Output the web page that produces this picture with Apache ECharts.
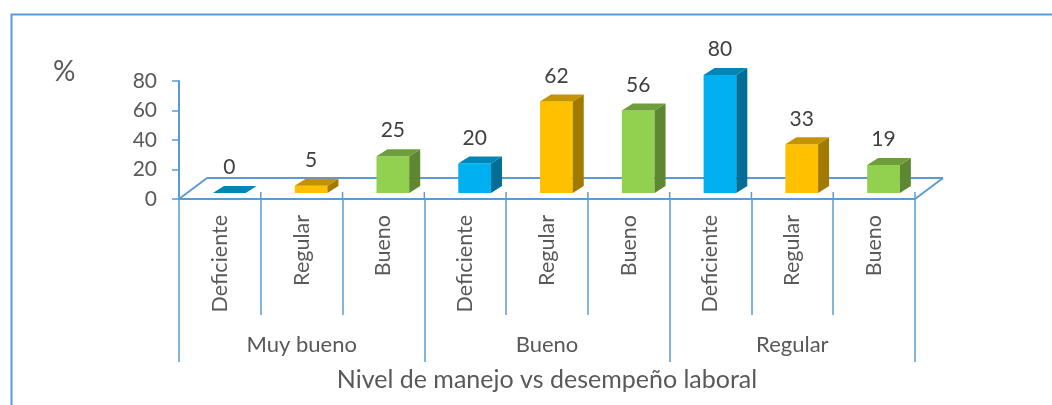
<!DOCTYPE html>
<html>
<head>
<meta charset="utf-8">
<script src="https://cdn.jsdelivr.net/npm/echarts@6/dist/echarts.min.js"></script>
<style>
  html, body { margin: 0; padding: 0; background: #fff; }
  #chart { width: 1052px; height: 405px; }
</style>
</head>
<body>
<div id="chart"></div>
<script>
// Performance level groups (outer axis) and management level (inner axis)
const groups = ['Muy bueno', 'Bueno', 'Regular'];
const levels = ['Deficiente', 'Regular', 'Bueno'];
const categories = ['Deficiente', 'Regular', 'Bueno', 'Deficiente', 'Regular', 'Bueno', 'Deficiente', 'Regular', 'Bueno'];
const values = [0, 5, 25, 20, 62, 56, 80, 33, 19];
const yTicks = [0, 20, 40, 60, 80];

// face colours per management level: front, top, side
const palette = {
  'Deficiente': ['#00B0F0', '#0086B6', '#006E96'],
  'Regular':    ['#FFC000', '#C49300', '#A37A00'],
  'Bueno':      ['#92D050', '#6E9D3B', '#5E8732']
};

const FONT = 'Lato';
const AXIS_BLUE = '#5B9BD5';
const TEXT = '#595959';

const chart = echarts.init(document.getElementById('chart'), null, { renderer: 'canvas' });

// floor of the 3D plot area plus the short tick stubs through it
function renderFloor(params, api) {
  const cs = params.coordSys;
  const fy = cs.y + cs.height;
  const dx = 28, dy = 21;
  const ls = { stroke: AXIS_BLUE, lineWidth: 2 };
  const children = [
    { type: 'line', shape: { x1: cs.x + dx, y1: fy - dy, x2: cs.x + cs.width + dx, y2: fy - dy }, style: ls },
    { type: 'line', shape: { x1: cs.x, y1: fy, x2: cs.x + dx, y2: fy - dy }, style: ls },
    { type: 'line', shape: { x1: cs.x + cs.width, y1: fy, x2: cs.x + cs.width + dx, y2: fy - dy }, style: ls }
  ];
  const band = cs.width / categories.length;
  for (let i = 1; i <= categories.length; i++) {
    const x = cs.x + band * i;
    children.push({ type: 'line', shape: { x1: x, y1: fy - 7, x2: x, y2: fy }, style: { stroke: AXIS_BLUE, lineWidth: 1.5 } });
  }
  return { type: 'group', children };
}

// 3D column: front face, top face, right side face and value label
function renderBar(params, api) {
  const idx = api.value(0);
  const v = api.value(1);
  const base = api.coord([idx, 0]);
  const top = api.coord([idx, v]);
  const band = api.size([1, 0])[0];
  const w = band * 0.4;
  const shift = band * 0.115;
  const lift = 6;
  const dx = 11, dy = 7;
  const x0 = base[0] - w / 2 + shift;
  const x1 = x0 + w;
  const yb = base[1] - lift;
  const yt = top[1] - lift;
  const col = palette[categories[idx]];
  const children = [];
  if (yb - yt > 0.5) {
    children.push({ type: 'rect', shape: { x: x0, y: yt, width: w, height: yb - yt }, style: { fill: col[0] } });
    children.push({ type: 'polygon', shape: { points: [[x1, yt], [x1 + dx, yt - dy], [x1 + dx, yb - dy], [x1, yb]] }, style: { fill: col[2] } });
  }
  children.push({ type: 'polygon', shape: { points: [[x0, yt], [x1, yt], [x1 + dx, yt - dy], [x0 + dx, yt - dy]] }, style: { fill: col[1] } });
  children.push({
    type: 'text',
    style: {
      text: String(v), x: (x0 + x1) / 2, y: yt - dy - 8,
      align: 'center', verticalAlign: 'bottom',
      fill: '#404040', font: '21px ' + FONT
    }
  });
  return { type: 'group', children };
}

const option = {
  animation: false,
  backgroundColor: '#fff',
  textStyle: { fontFamily: FONT },
  grid: { left: 179, right: 137, top: 81, bottom: 206, containLabel: false },
  graphic: [
    { type: 'rect', left: 9, top: 12, shape: { width: 1100, height: 500 }, style: { fill: 'none', stroke: AXIS_BLUE, lineWidth: 2 }, z: 0 },
    { type: 'text', left: 53, top: 58, style: { text: '%', fill: TEXT, font: '28px ' + FONT }, z: 10 }
  ],
  xAxis: [
    {
      type: 'category', data: categories, position: 'bottom',
      axisLine: { show: true, lineStyle: { color: AXIS_BLUE, width: 2 } },
      axisTick: { show: true, length: 116, interval: 0, lineStyle: { color: AXIS_BLUE, width: 1.5 } },
      axisLabel: { interval: 0, rotate: 90, margin: 16, color: TEXT, fontSize: 21.5, fontFamily: FONT },
      splitLine: { show: false }
    },
    {
      type: 'category', data: groups, position: 'bottom', offset: 0,
      axisLine: { show: false },
      axisTick: { show: true, length: 163, interval: 0, lineStyle: { color: AXIS_BLUE, width: 1.5 } },
      axisLabel: { interval: 0, margin: 135, color: TEXT, fontSize: 22, fontFamily: FONT },
      name: 'Nivel de manejo vs desempeño laboral',
      nameLocation: 'middle', nameGap: 168,
      nameTextStyle: { color: TEXT, fontSize: 25, fontFamily: FONT }
    }
  ],
  yAxis: {
    type: 'value', min: 0, max: 80, interval: 20,
    axisLine: { show: true, lineStyle: { color: AXIS_BLUE, width: 2 } },
    axisTick: { show: true, length: 7, lineStyle: { color: AXIS_BLUE, width: 1.5 } },
    axisLabel: {
      margin: 22, color: TEXT, fontSize: 21, fontFamily: FONT,
      formatter: (val) => (yTicks.includes(val) ? String(val) : '')
    },
    splitLine: { show: false }
  },
  series: [
    {
      type: 'custom', xAxisIndex: 0, yAxisIndex: 0, z: 1,
      renderItem: renderFloor, data: [[0, 0]], silent: true
    },
    {
      type: 'custom', xAxisIndex: 0, yAxisIndex: 0, z: 2,
      renderItem: renderBar,
      encode: { x: 0, y: 1 },
      data: values.map((v, i) => [i, v]),
      clip: false
    }
  ]
};

chart.setOption(option);
</script>
</body>
</html>
